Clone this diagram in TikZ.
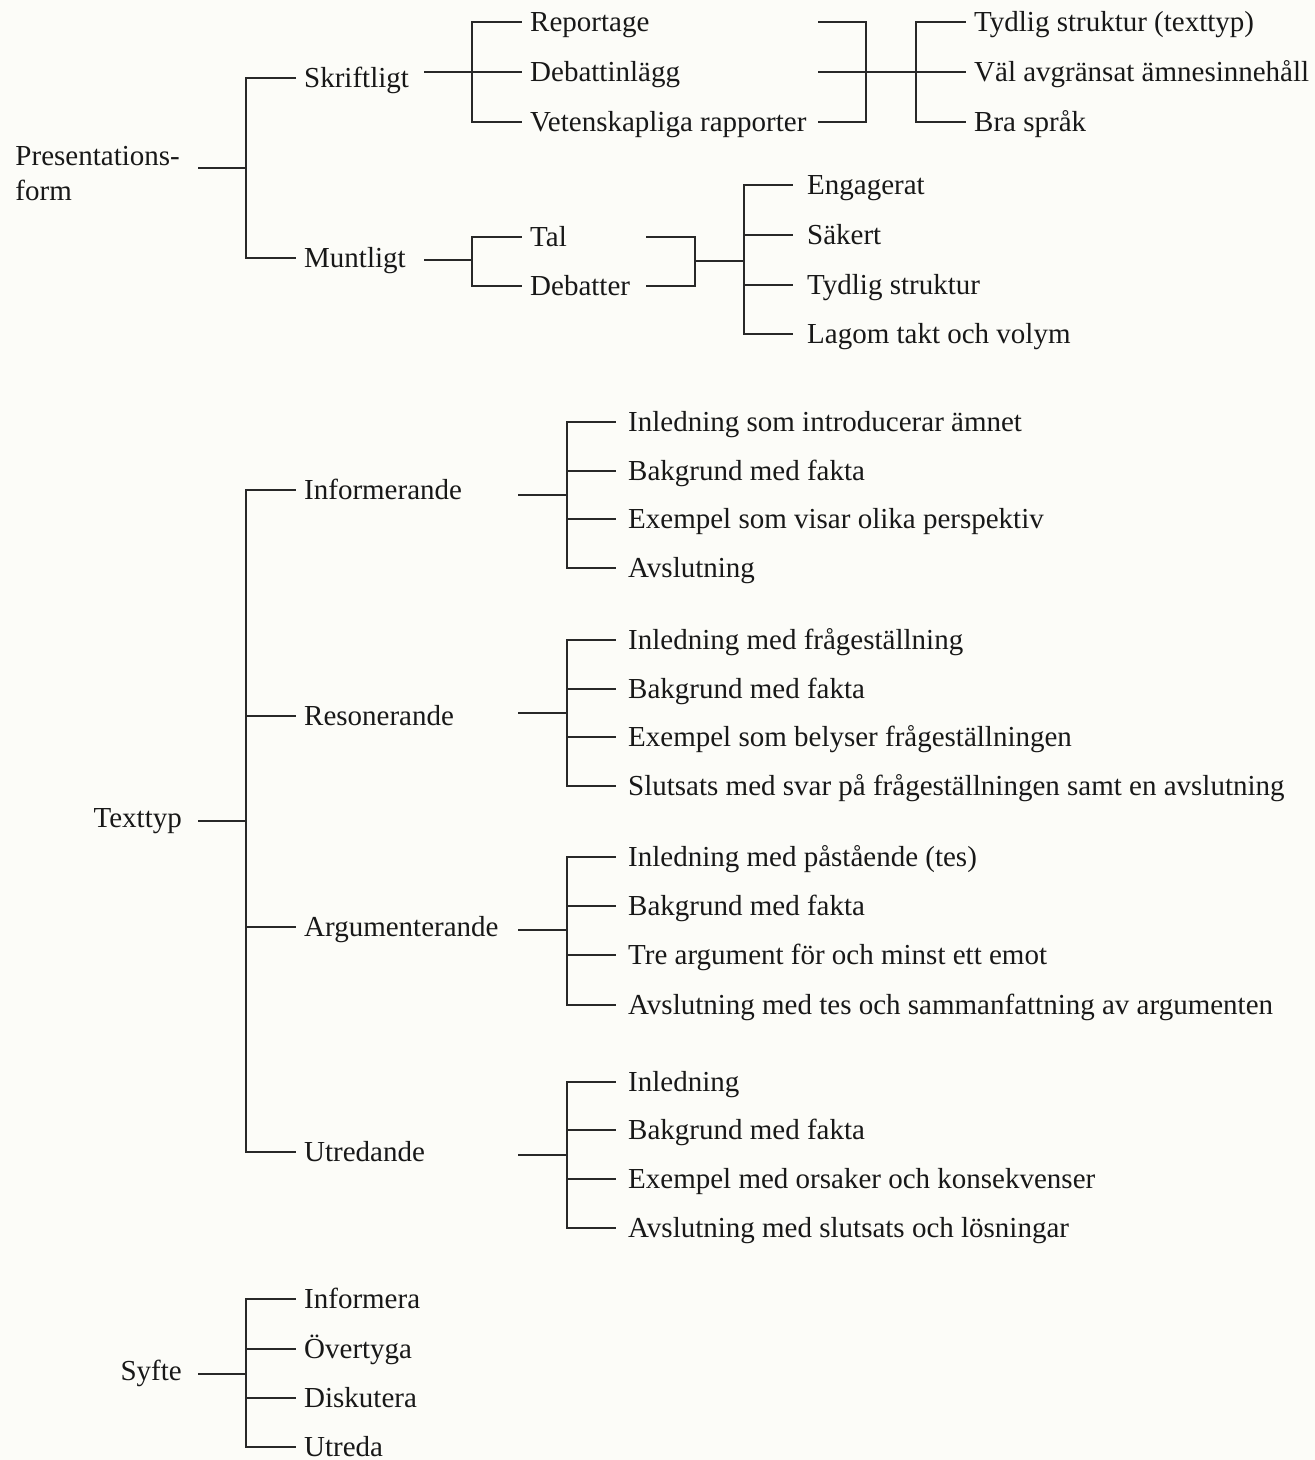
\documentclass[tikz,border=0pt]{standalone}
\usepackage{fontspec}
\setmainfont{Liberation Serif}
\definecolor{papper}{RGB}{252,252,248}
\definecolor{svart}{RGB}{24,24,24}
\definecolor{linje}{RGB}{40,40,40}
\newcommand{\tradfont}{\fontsize{29}{35}\selectfont}

\begin{document}
\begin{tikzpicture}[x=1pt,y=-1pt]

  \tikzset{ord/.style={anchor=west,inner xsep=8pt,inner ysep=0pt,text height=19pt,text depth=0pt,text=svart,font=\tradfont},
    rot/.style={ord,anchor=east,inner xsep=16pt,text height=12pt},
    gren/.style={draw=linje,line width=1.9pt}}
  \fill[papper] (0,0) rectangle (1315,1460);
  \useasboundingbox (0,0) rectangle (1315,1460);

  % presentationsform
  \node[anchor=east,inner xsep=18pt,inner ysep=0pt,align=left,text=svart,font=\tradfont,yshift=-6pt] (pf) at (198,168) {Presentations-\\form};
  \coordinate (jpf) at (246,168);
  \node[ord] (sk) at (296,78) {Skriftligt};
  \node[ord] (mu) at (296,258) {Muntligt};
  \draw[gren] (pf.east |- jpf) -- (jpf);
  \draw[gren] (sk.west) -| (jpf) |- (mu.west);

  % skriftligt
  \coordinate (skut) at (424,72);
  \coordinate (jsk) at (472,72);
  \coordinate (jsk2) at (866,72);
  \coordinate (jsk3) at (916,72);
  \draw[gren] (skut) -- (jsk);
  \foreach \n/\y/\txt in {rep/22/Reportage,deb/72/Debattinlägg,vet/122/Vetenskapliga rapporter} {
    \node[ord] (\n) at (522,\y) {\txt};
    \coordinate (\n-ut) at (818,\y);
    \draw[gren] (jsk) |- (\n.west);
    \draw[gren] (\n-ut) -| (jsk2);
  }
  \draw[gren] (jsk2) -- (jsk3);
  \foreach \n/\y/\txt in {tyd/22/Tydlig struktur (texttyp),val/72/Väl avgränsat ämnesinnehåll,bra/122/Bra språk} {
    \node[ord] (\n) at (966,\y) {\txt};
    \draw[gren] (jsk3) |- (\n.west);
  }

  % muntligt
  \coordinate (muut) at (424,260);
  \coordinate (jmu) at (472,260);
  \coordinate (jmu2) at (695,261);
  \coordinate (jmu3) at (744,261);
  \draw[gren] (muut) -- (jmu);
  \foreach \n/\y/\txt in {tal/237/Tal,dbt/286/Debatter} {
    \node[ord] (\n) at (522,\y) {\txt};
    \coordinate (\n-ut) at (646,\y);
    \draw[gren] (jmu) |- (\n.west);
    \draw[gren] (\n-ut) -| (jmu2);
  }
  \draw[gren] (jmu2) -- (jmu3);
  \foreach \n/\y/\txt in {eng/185/Engagerat,sak/235/Säkert,tst/285/Tydlig struktur,lag/334/Lagom takt och volym} {
    \node[ord,inner xsep=14pt] (\n) at (793,\y) {\txt};
    \draw[gren] (jmu3) |- (\n.west);
  }

  % texttyp
  \node[rot] (tt) at (198,821) {Texttyp};
  \coordinate (jtt) at (246,821);
  \draw[gren] (tt.east) -- (jtt);
  \foreach \n/\y/\ym/\txt in {inf/490/495/Informerande,res/716/713/Resonerande,arg/927/930/Argumenterande,utr/1152/1155/Utredande} {
    \node[ord] (\n) at (296,\y) {\txt};
    \draw[gren] (jtt) |- (\n.west);
    \coordinate (\n-ut) at (518,\ym);
    \coordinate (\n-j) at (567,\ym);
    \draw[gren] (\n-ut) -- (\n-j);
  }
  \foreach \g/\k/\y/\txt in {inf/1/422/Inledning som introducerar ämnet,inf/2/471/Bakgrund med fakta,inf/3/519/Exempel som visar olika perspektiv,inf/4/568/Avslutning,
      res/1/640/Inledning med frågeställning,res/2/689/Bakgrund med fakta,res/3/737/Exempel som belyser frågeställningen,res/4/786/Slutsats med svar på frågeställningen samt en avslutning,
      arg/1/857/Inledning med påstående (tes),arg/2/906/Bakgrund med fakta,arg/3/955/Tre argument för och minst ett emot,arg/4/1005/Avslutning med tes och sammanfattning av argumenten,
      utr/1/1082/Inledning,utr/2/1130/Bakgrund med fakta,utr/3/1179/Exempel med orsaker och konsekvenser,utr/4/1228/Avslutning med slutsats och lösningar} {
    \node[ord,inner xsep=12pt] (\g\k) at (616,\y) {\txt};
    \draw[gren] (\g-j) |- (\g\k.west);
  }

  % syfte
  \node[rot] (sy) at (198,1374) {Syfte};
  \coordinate (jsy) at (246,1374);
  \draw[gren] (sy.east) -- (jsy);
  \foreach \n/\y/\txt in {infa/1299/Informera,ovt/1349/Övertyga,dis/1398/Diskutera,utra/1447/Utreda} {
    \node[ord] (\n) at (296,\y) {\txt};
    \draw[gren] (jsy) |- (\n.west);
  }
\end{tikzpicture}
\end{document}
